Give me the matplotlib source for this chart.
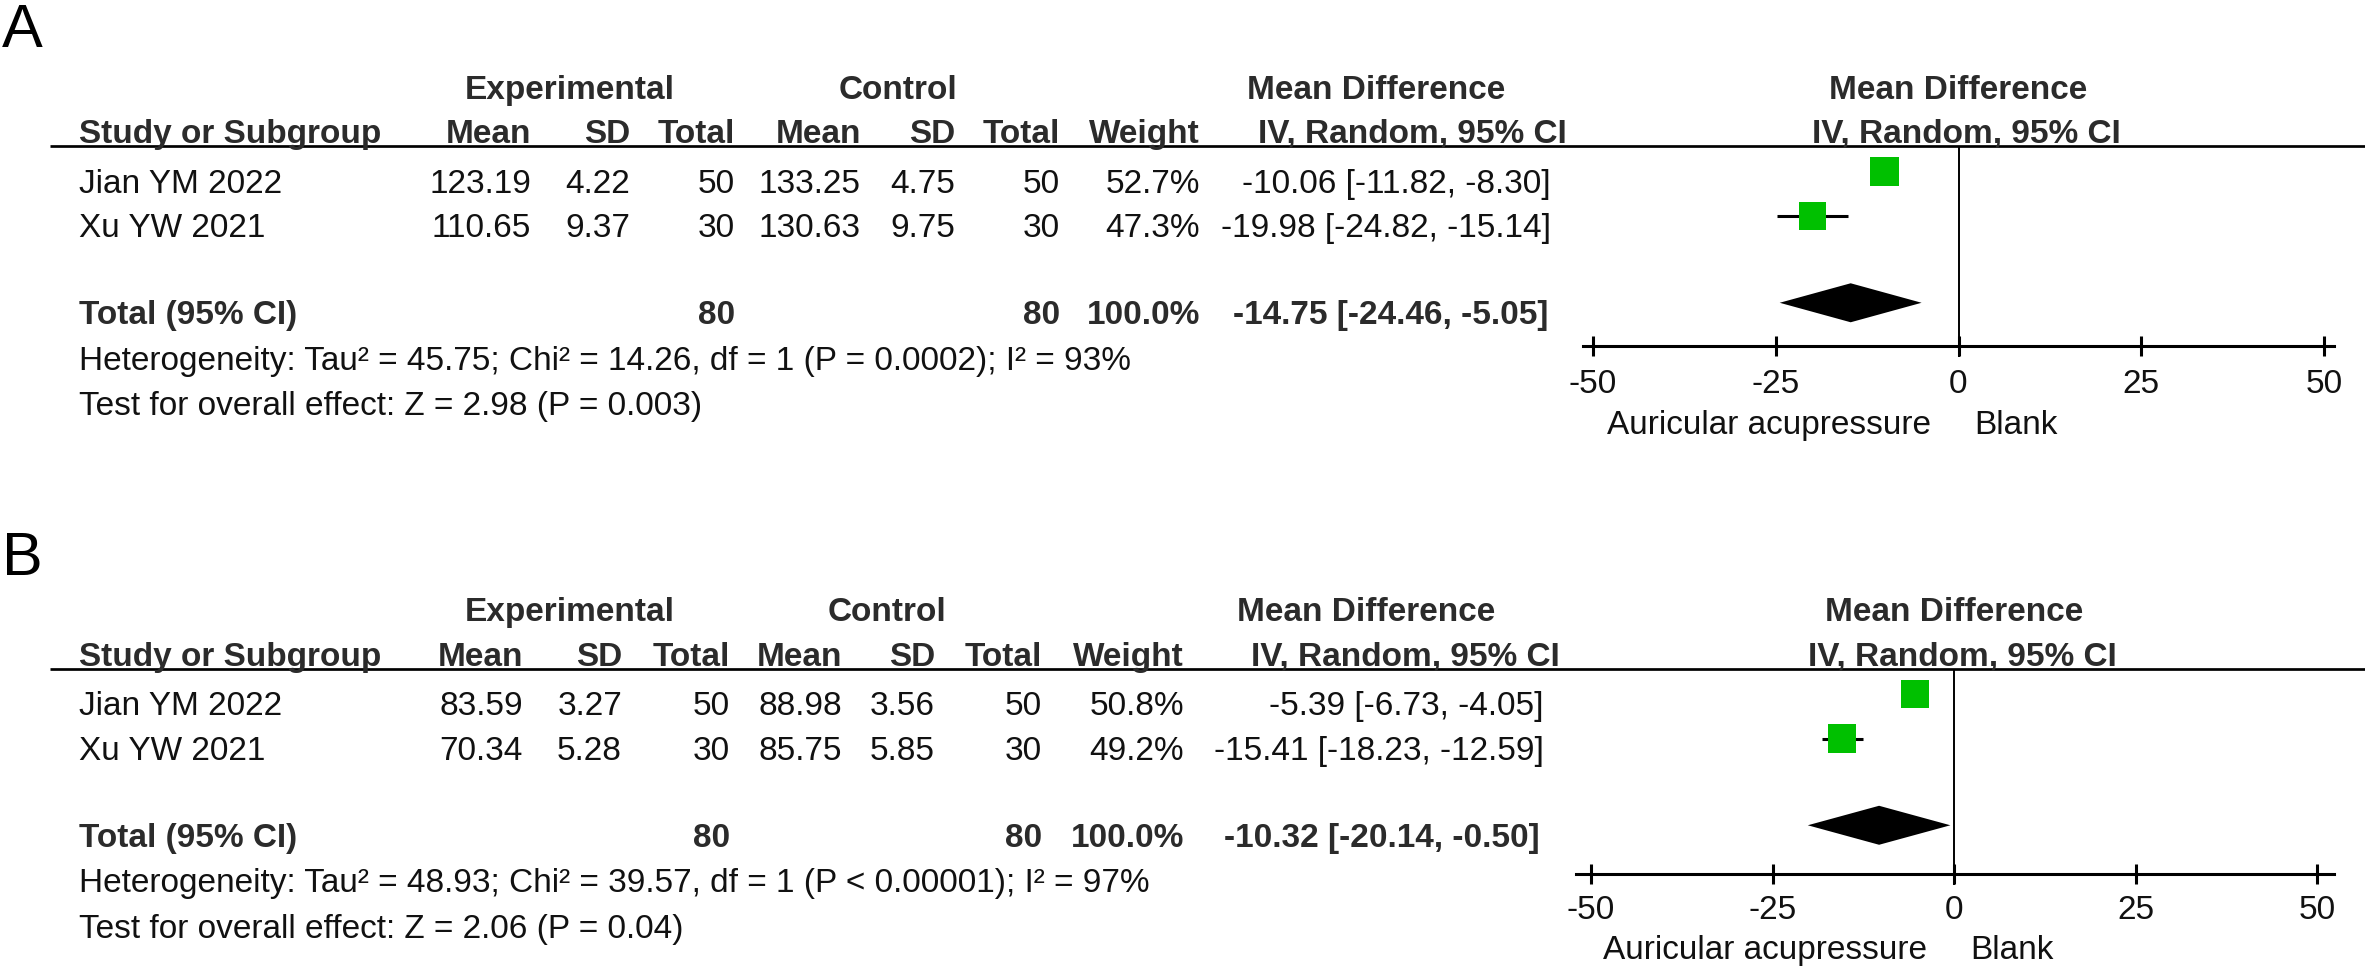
import matplotlib.pyplot as plt

plt.rcParams['font.family'] = ['Liberation Sans', 'DejaVu Sans']

W, H = 2365, 969

studies = ['Jian YM 2022', 'Xu YW 2021']
ticks = [-50, -25, 0, 25, 50]
favours = ['Auricular acupressure', 'Blank']

# panel A
a_exp_mean = [123.19, 110.65]
a_exp_sd = [4.22, 9.37]
a_exp_n = [50, 30]
a_ctl_mean = [133.25, 130.63]
a_ctl_sd = [4.75, 9.75]
a_ctl_n = [50, 30]
a_weight = [52.7, 47.3]
a_md = [-10.06, -19.98]
a_lo = [-11.82, -24.82]
a_hi = [-8.30, -15.14]
a_total = [-14.75, -24.46, -5.05]
a_het = 'Heterogeneity: Tau² = 45.75; Chi² = 14.26, df = 1 (P = 0.0002); I² = 93%'
a_test = 'Test for overall effect: Z = 2.98 (P = 0.003)'

# panel B
b_exp_mean = [83.59, 70.34]
b_exp_sd = [3.27, 5.28]
b_exp_n = [50, 30]
b_ctl_mean = [88.98, 85.75]
b_ctl_sd = [3.56, 5.85]
b_ctl_n = [50, 30]
b_weight = [50.8, 49.2]
b_md = [-5.39, -15.41]
b_lo = [-6.73, -18.23]
b_hi = [-4.05, -12.59]
b_total = [-10.32, -20.14, -0.50]
b_het = 'Heterogeneity: Tau² = 48.93; Chi² = 39.57, df = 1 (P < 0.00001); I² = 97%'
b_test = 'Test for overall effect: Z = 2.06 (P = 0.04)'

FS = 24
REG = '#111111'
BLD = '#2b2b2b'
GREEN = '#00c000'
ROW = 44.5

fig = plt.figure(figsize=(W / 100, H / 100), dpi=100)
ax = fig.add_axes([0, 0, 1, 1])
ax.set_xlim(0, W)
ax.set_ylim(H, 0)
ax.axis('off')


def txt(x, yc, s, bold=False, ha='right', size=FS):
    # yc = centre of capital letters, in pixels
    ax.text(x, yc + 0.358 * size * 100 / 72, s, ha=ha, va='baseline', fontsize=size,
            fontweight='bold' if bold else 'normal', color=BLD if bold else REG)


def panel(letter, lay, exp_mean, exp_sd, exp_n, ctl_mean, ctl_sd, ctl_n,
          weight, md, lo, hi, total, het, test):
    o = lay['origin']
    cols = lay['cols']
    ax.text(2, lay['letter_y'], letter, fontsize=44, ha='left', va='baseline', color='black')

    # group headers
    txt(lay['exp_c'], o - 2.12 * ROW, 'Experimental', True, 'center')
    txt(lay['ctl_c'], o - 2.12 * ROW, 'Control', True, 'center')
    txt(lay['md_c'], o - 2.12 * ROW, 'Mean Difference', True, 'center')
    txt(lay['plot_c'], o - 2.12 * ROW, 'Mean Difference', True, 'center')

    hy = o - 1.12 * ROW
    txt(79, hy, 'Study or Subgroup', True, 'left')
    for x, h in zip(cols, ['Mean', 'SD', 'Total', 'Mean', 'SD', 'Total', 'Weight']):
        txt(x, hy, h, True)
    txt(lay['ci_head'], hy, 'IV, Random, 95% CI', True)
    txt(lay['plot_c'] + 8, hy, 'IV, Random, 95% CI', True, 'center')
    line_y = o - 0.78 * ROW
    ax.plot([50, W], [line_y, line_y], color='black', lw=1.95, solid_capstyle='butt')

    # study rows
    for i, name in enumerate(studies):
        y = o + i * ROW
        txt(79, y, name, ha='left')
        vals = ['{:.2f}'.format(exp_mean[i]), '{:.2f}'.format(exp_sd[i]), str(exp_n[i]),
                '{:.2f}'.format(ctl_mean[i]), '{:.2f}'.format(ctl_sd[i]), str(ctl_n[i]),
                '{:.1f}%'.format(weight[i])]
        for x, v in zip(cols, vals):
            txt(x, y, v)
        txt(lay['ci'], y, '{:.2f} [{:.2f}, {:.2f}]'.format(md[i], lo[i], hi[i]))

    # total row
    ty = o + 2.95 * ROW
    txt(79, ty, 'Total (95% CI)', True, 'left')
    txt(cols[2], ty, str(sum(exp_n)), True)
    txt(cols[5], ty, str(sum(ctl_n)), True)
    txt(cols[6], ty, '{:.1f}%'.format(sum(weight)), True)
    txt(lay['ci_tot'], ty, '{:.2f} [{:.2f}, {:.2f}]'.format(*total), True)
    txt(79, o + 3.97 * ROW, het, ha='left')
    txt(79, o + 5.0 * ROW, test, ha='left')

    # forest plot
    top, bot = lay['top'], lay['bot']
    x0, x1 = lay['xlim']
    z, ppu = lay['zero'], lay['ppu']
    fp = fig.add_axes([(z + x0 * ppu) / W, 1 - bot / H, (x1 - x0) * ppu / W, (bot - top) / H])
    fp.set_xlim(x0, x1)
    fp.set_ylim(bot, top)
    fp.patch.set_visible(False)
    for s in ['top', 'left', 'right']:
        fp.spines[s].set_visible(False)
    axis_y = lay['axis']
    fp.spines['bottom'].set_position(('data', axis_y))
    fp.spines['bottom'].set_linewidth(2.2)
    fp.set_yticks([])
    fp.set_xticks(ticks)
    fp.set_xticklabels([str(t) for t in ticks])
    fp.tick_params(axis='x', direction='inout', length=15, width=2.2, pad=lay['pad'],
                   labelsize=FS, labelcolor=REG)

    fp.vlines(0, line_y, axis_y + 11, color='black', lw=1.4)
    ys = [o + i * ROW - 9.5 for i in range(len(studies))]
    fp.hlines(ys, lo, hi, color='black', lw=2.2, zorder=2)
    sizes = [(4.0 * w ** 0.5 * 0.72) ** 2 for w in weight]
    fp.scatter(md, ys, s=sizes, marker='s', color=GREEN, linewidths=0, zorder=3)
    dy = o + 2.95 * ROW - 9.5
    fp.fill([total[1], total[0], total[2], total[0]], [dy, dy - 19.5, dy, dy + 19.5],
            color='black', lw=0, zorder=3)

    ly = lay['fav_y']
    txt(z - 27, ly, favours[0])
    txt(z + 16, ly, favours[1], ha='left')


lay_a = dict(top=0, bot=484, origin=181, letter_y=47,
             cols=[531, 630, 735, 861, 955, 1060, 1200],
             ci=1551, ci_tot=1548, ci_head=1567,
             exp_c=570, ctl_c=898, md_c=1376, plot_c=1958,
             zero=1958.5, ppu=7.31, xlim=(-51.4, 51.4), axis=346, pad=9, fav_y=422)
lay_b = dict(top=484, bot=969, origin=703.5, letter_y=575,
             cols=[523, 622, 730, 842, 935, 1042, 1184],
             ci=1544, ci_tot=1540, ci_head=1560,
             exp_c=570, ctl_c=887, md_c=1366, plot_c=1954,
             zero=1954, ppu=7.26, xlim=(-52, 52.4), axis=874, pad=7.5, fav_y=947)

panel('A', lay_a, a_exp_mean, a_exp_sd, a_exp_n, a_ctl_mean, a_ctl_sd, a_ctl_n,
      a_weight, a_md, a_lo, a_hi, a_total, a_het, a_test)
panel('B', lay_b, b_exp_mean, b_exp_sd, b_exp_n, b_ctl_mean, b_ctl_sd, b_ctl_n,
      b_weight, b_md, b_lo, b_hi, b_total, b_het, b_test)

fig.savefig('out.png', dpi=100)
